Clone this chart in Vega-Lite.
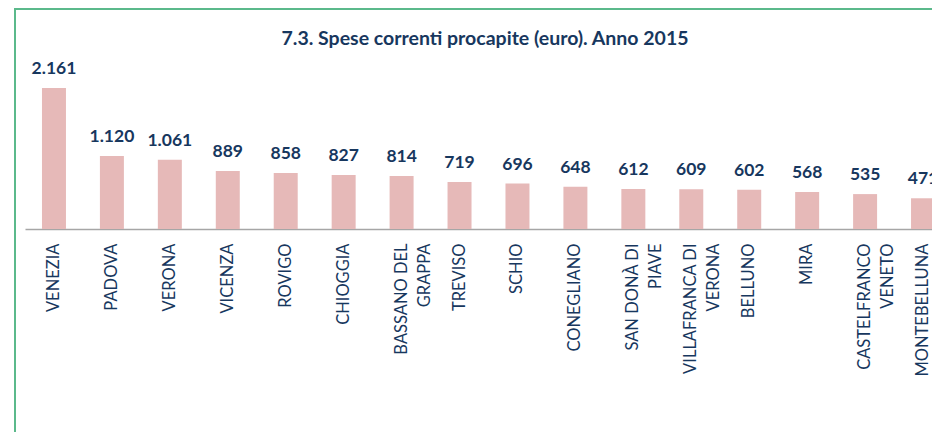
{
  "$schema": "https://vega.github.io/schema/vega-lite/v6.json",
  "autosize": {"type": "none"},
  "padding": {"left": 15, "top": 9, "right": -23, "bottom": -17},
  "width": 940,
  "height": 440,
  "title": {
    "text": "7.3. Spese correnti procapite (euro). Anno 2015",
    "anchor": "middle",
    "frame": "group",
    "offset": -40,
    "font": "Lato",
    "fontSize": 19.5,
    "fontWeight": "bold",
    "color": "#17375e"
  },
  "data": {
    "values": [
      {"comune": "VENEZIA", "spesa": 2161},
      {"comune": "PADOVA", "spesa": 1120},
      {"comune": "VERONA", "spesa": 1061},
      {"comune": "VICENZA", "spesa": 889},
      {"comune": "ROVIGO", "spesa": 858},
      {"comune": "CHIOGGIA", "spesa": 827},
      {"comune": "BASSANO DEL GRAPPA", "spesa": 814},
      {"comune": "TREVISO", "spesa": 719},
      {"comune": "SCHIO", "spesa": 696},
      {"comune": "CONEGLIANO", "spesa": 648},
      {"comune": "SAN DONÀ DI PIAVE", "spesa": 612},
      {"comune": "VILLAFRANCA DI VERONA", "spesa": 609},
      {"comune": "BELLUNO", "spesa": 602},
      {"comune": "MIRA", "spesa": 568},
      {"comune": "CASTELFRANCO VENETO", "spesa": 535},
      {"comune": "MONTEBELLUNA", "spesa": 471}
    ]
  },
  "encoding": {
    "x": {
      "field": "comune",
      "type": "nominal",
      "sort": null,
      "scale": {"range": [10, 937], "paddingInner": 0.586, "paddingOuter": 0.293},
      "axis": {
        "title": null,
        "orient": "bottom",
        "offset": -220,
        "ticks": false,
        "labelAngle": -90,
        "labelPadding": 14,
        "labelFont": "Lato",
        "labelFontSize": 16.5,
        "labelColor": "#17375e",
        "labelLineHeight": 23,
        "labelLimit": 0,
        "labelOverlap": false,
        "domainColor": "#a6a6a6",
        "domainWidth": 1.5,
        "labelExpr": "split(replace(replace(replace(datum.label, 'DEL ', 'DEL|'), 'DI ', 'DI|'), 'CO ', 'CO|'), '|')"
      }
    },
    "y": {
      "field": "spesa",
      "type": "quantitative",
      "scale": {"domain": [-3372, 3372], "nice": false},
      "axis": null
    }
  },
  "layer": [
    {"mark": {"type": "bar", "color": "#e6b9b8"}},
    {
      "mark": {
        "type": "text",
        "dy": -14,
        "baseline": "alphabetic",
        "font": "Lato",
        "fontSize": 17.5,
        "fontWeight": "bold",
        "color": "#17375e"
      },
      "encoding": {"text": {"field": "spesa", "type": "quantitative", "format": ",d"}}
    }
  ],
  "config": {
    "locale": {"number": {"decimal": ",", "thousands": ".", "grouping": [3], "currency": ["€", ""]}},
    "view": {"stroke": "#5bb98b", "strokeWidth": 2},
    "axis": {"grid": false}
  }
}
